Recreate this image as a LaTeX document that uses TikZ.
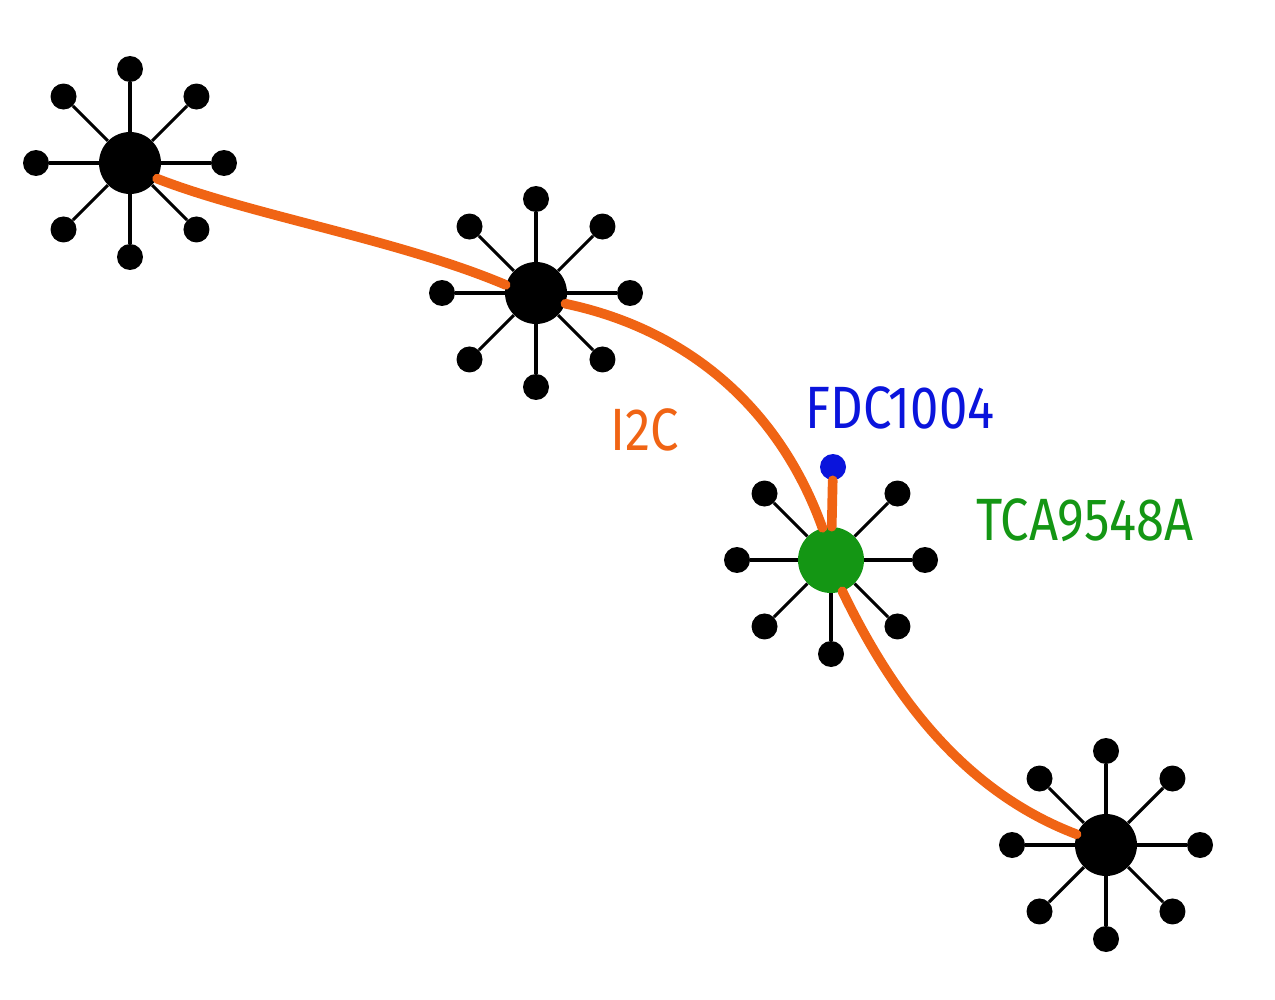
\documentclass[tikz,border=0pt]{standalone}
\usepackage{fontspec}
\setsansfont{Fira Sans}
\usetikzlibrary{calc}
\definecolor{wire}{RGB}{240,100,20}
\definecolor{chip}{RGB}{20,150,20}
\definecolor{sensor}{RGB}{10,20,220}
\tikzset{
  hub/.style={circle, fill=black, minimum size=1.24cm, inner sep=0pt},
  pin/.style={circle, fill=black, minimum size=0.52cm, inner sep=0pt},
  leg/.style={line width=1.8pt},
  bus/.style={draw=wire, line width=5.5pt, line cap=round},
  tag/.style={font=\sffamily\fontsize{34}{34}\selectfont, xscale=0.85}
}
\begin{document}
\begin{tikzpicture}[x=0.02cm, y=-0.02cm]
    \useasboundingbox (0,0) rectangle (1275,1000);
    \foreach \n/\x/\y in {h1/130/163, h2/536/293, h4/1106/845}
        {\node[hub] (\n) at (\x,\y) {};
         \foreach \a in {0,45,...,315}
            {\node[pin] (\n-\a) at ($(\n)+(\a:94)$) {};
             \draw[leg] (\n) -- (\n-\a);};};
    \node[hub, fill=chip, minimum size=1.32cm] (mux) at (831,560) {};
    \foreach \a in {0,45,90,135,180,225,315}
        {\node[pin] (mux-\a) at ($(mux)+(\a:94)$) {};
         \draw[leg] (mux) -- (mux-\a);};
    \node[pin, fill=sensor] (fdc) at (833,467) {};
    \draw[bus] (h1.-30) .. controls (250,215) and (400,240) .. (h2.165);
    \draw[bus] (h2.-20) .. controls (690,330) and (780,410) .. (mux.105);
    \draw[bus] (mux.-70) .. controls (890,690) and (960,790) .. (h4.160);
    \draw[bus] (fdc) -- (mux);
    \node[tag, text=wire] (bus) at (645,430) {I2C};
    \node[tag, text=sensor] (fdcname) at (900,408) {FDC1004};
    \node[tag, text=chip] (muxname) at (1085,520) {TCA9548A};
\end{tikzpicture}
\end{document}
